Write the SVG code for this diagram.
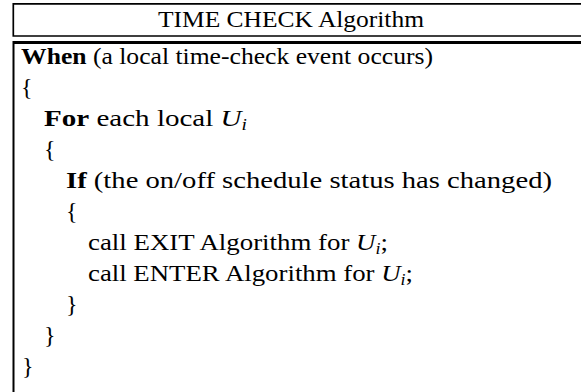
<svg xmlns="http://www.w3.org/2000/svg" width="581" height="392" viewBox="0 0 581 392">
<style>
text{font-family:"Liberation Serif","Times New Roman",serif;font-size:24px;fill:#000}
.b{font-weight:bold}
.i{font-style:italic}
.s{font-style:italic;font-size:16px}
.frame{fill:none;stroke:#000}
</style>
<rect width="581" height="392" fill="#fff"/>
<g id="header">
<path class="frame" d="M590,3.8 H13.3 V36 H590" stroke-width="1.7"/>
<text x="158" y="27" textLength="266" lengthAdjust="spacingAndGlyphs">TIME CHECK Algorithm</text>
</g>
<g id="body">
<path class="frame" d="M590,42.5 H13.5" stroke-width="3"/>
<path class="frame" d="M13.5,41 V392" stroke-width="2"/>
<text x="21" y="64" textLength="412" lengthAdjust="spacingAndGlyphs"><tspan class="b">When</tspan> (a local time-check event occurs)</text>
<text x="21" y="95">{</text>
<text x="44" y="126" textLength="203" lengthAdjust="spacingAndGlyphs"><tspan class="b">For</tspan> each local <tspan class="i">U</tspan><tspan class="s" dy="4">i</tspan></text>
<text x="44" y="157">{</text>
<text x="66" y="188" textLength="486" lengthAdjust="spacingAndGlyphs"><tspan class="b">If</tspan> (the on/off schedule status has changed)</text>
<text x="66" y="219">{</text>
<text x="88" y="250" textLength="300" lengthAdjust="spacingAndGlyphs">call EXIT Algorithm for <tspan class="i">U</tspan><tspan class="s" dy="4">i</tspan><tspan dy="-4">;</tspan></text>
<text x="88" y="281" textLength="325" lengthAdjust="spacingAndGlyphs">call ENTER Algorithm for <tspan class="i">U</tspan><tspan class="s" dy="4">i</tspan><tspan dy="-4">;</tspan></text>
<text x="66" y="312">}</text>
<text x="44" y="343">}</text>
<text x="22" y="374">}</text>
</g>
</svg>
